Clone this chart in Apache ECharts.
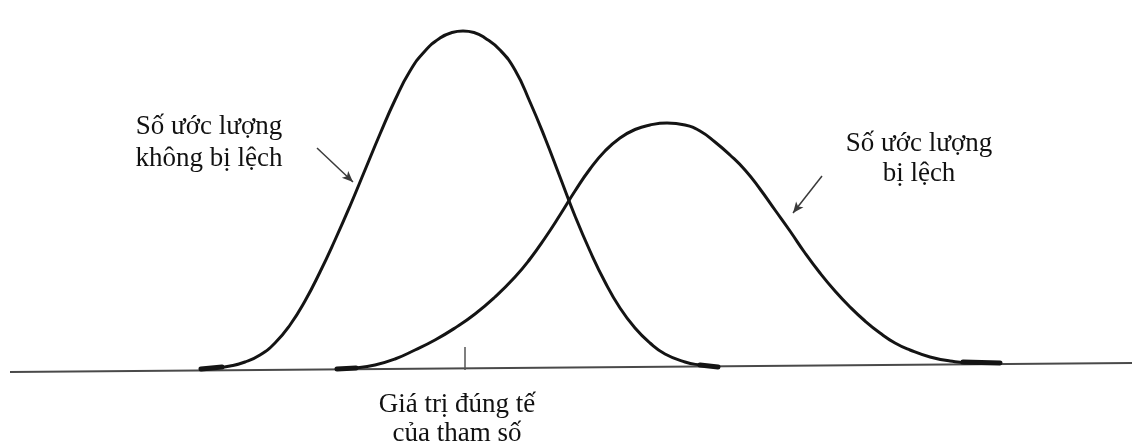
<!DOCTYPE html>
<html>
<head>
<meta charset="utf-8">
<style>
  html, body { margin: 0; padding: 0; background: #ffffff; }
  #chart { width: 1132px; height: 447px; }
</style>
<script src="https://cdn.jsdelivr.net/npm/echarts@6/dist/echarts.min.js"></script>
</head>
<body>
<div id="chart"></div>
<script>
// Sampling distribution of the unbiased estimator (centred on the true value)
const unbiasedX = [200, 215, 230, 245, 260, 275, 290, 305, 320, 335, 350, 365, 380, 395, 410, 425, 440, 452, 463, 474, 485, 500, 515, 530, 545, 560, 575, 590, 605, 620, 635, 650, 665, 685, 700, 718];
const unbiasedY = [78, 79, 81, 85, 92, 104, 122, 146, 175, 207, 241, 277, 313, 347, 376, 396, 409, 414.5, 416, 414.5, 409, 397, 377, 345, 309, 270, 231, 196, 165, 139, 119, 104, 93, 85, 82, 80];

// Sampling distribution of the biased estimator (shifted to the right)
const biasedX = [337, 355, 375, 395, 415, 435, 455, 475, 495, 515, 530, 545, 560, 575, 590, 605, 620, 635, 650, 667, 685, 700, 715, 730, 745, 760, 775, 790, 805, 820, 835, 850, 865, 880, 895, 910, 930, 950, 975, 1000];
const biasedY = [78, 79, 82, 88, 97, 107, 119, 133, 150, 170, 188, 209, 232, 256, 278, 296, 309, 317.5, 322, 324, 322, 316, 305, 292, 277, 258, 237, 216, 194, 174, 156, 140, 126, 114, 104, 97, 90, 86, 84, 84];

// Horizontal axis line (drawn slightly slanted) and the tick at the true value
const baselineX = [10, 1132];
const baselineY = [75, 84];
const trueValueX = 465;
const trueValueTick = [77, 100];

// Thicker pen strokes where each curve meets the axis
const penEnds = [
  [[201, 78], [222, 80]],
  [[700, 82], [718, 80]],
  [[337, 78], [356, 79]],
  [[963, 85], [1000, 84]]
];

// Pointer arrows from the labels to the curves
const unbiasedArrow = [[317, 299], [353, 265]];
const biasedArrow = [[822, 271], [793, 234]];

// Text labels
const unbiasedLabel = 'Số ước lượng\nkhông bị lệch';
const biasedLabel = 'Số ước lượng\nbị lệch';
const trueValueLabel = 'Giá trị đúng tế\ncủa tham số';

const zip = (xs, ys) => xs.map((x, i) => [x, ys[i]]);

const curveColor = '#141414';
const axisColor = '#4a4a4a';
const textFont = '27px "Liberation Serif", "Times New Roman", serif';

const arrowMarkLine = (pair) => ({
  silent: true,
  symbol: ['none', 'arrow'],
  symbolSize: [7, 11],
  label: { show: false },
  lineStyle: { color: '#3a3a3a', width: 1.5, type: 'solid' },
  data: [[{ coord: pair[0] }, { coord: pair[1] }]]
});

const series = [
  {
    name: 'baseline',
    type: 'line',
    data: zip(baselineX, baselineY),
    symbol: 'none',
    lineStyle: { color: axisColor, width: 2 },
    z: 1,
    silent: true
  },
  {
    name: 'trueValueTick',
    type: 'line',
    data: trueValueTick.map(v => [trueValueX, v]),
    symbol: 'none',
    lineStyle: { color: '#555', width: 1.5 },
    z: 1,
    silent: true
  },
  {
    name: 'unbiased',
    type: 'line',
    data: zip(unbiasedX, unbiasedY),
    smooth: 0.5,
    symbol: 'none',
    lineStyle: { color: curveColor, width: 3 },
    z: 3,
    silent: true,
    markLine: arrowMarkLine(unbiasedArrow)
  },
  {
    name: 'biased',
    type: 'line',
    data: zip(biasedX, biasedY),
    smooth: 0.5,
    symbol: 'none',
    lineStyle: { color: curveColor, width: 3 },
    z: 3,
    silent: true,
    markLine: arrowMarkLine(biasedArrow)
  }
];

penEnds.forEach((seg, i) => {
  series.push({
    name: 'penEnd' + i,
    type: 'line',
    data: seg,
    symbol: 'none',
    lineStyle: { color: curveColor, width: 5, cap: 'round' },
    z: 4,
    silent: true
  });
});

const chart = echarts.init(document.getElementById('chart'), null, { renderer: 'canvas' });
chart.setOption({
  animation: false,
  backgroundColor: '#ffffff',
  grid: { left: 0, right: 0, top: 0, bottom: 0 },
  xAxis: { type: 'value', min: 0, max: 1132, show: false },
  yAxis: { type: 'value', min: 0, max: 447, show: false },
  tooltip: { show: false },
  series: series,
  graphic: [
    {
      type: 'text', x: 209, y: 143,
      style: { text: unbiasedLabel, font: textFont, fill: '#111', align: 'center', verticalAlign: 'middle', lineHeight: 32 }
    },
    {
      type: 'text', x: 919, y: 159,
      style: { text: biasedLabel, font: textFont, fill: '#111', align: 'center', verticalAlign: 'middle', lineHeight: 30 }
    },
    {
      type: 'text', x: 457, y: 419,
      style: { text: trueValueLabel, font: textFont, fill: '#111', align: 'center', verticalAlign: 'middle', lineHeight: 29 }
    }
  ]
});
</script>
</body>
</html>
